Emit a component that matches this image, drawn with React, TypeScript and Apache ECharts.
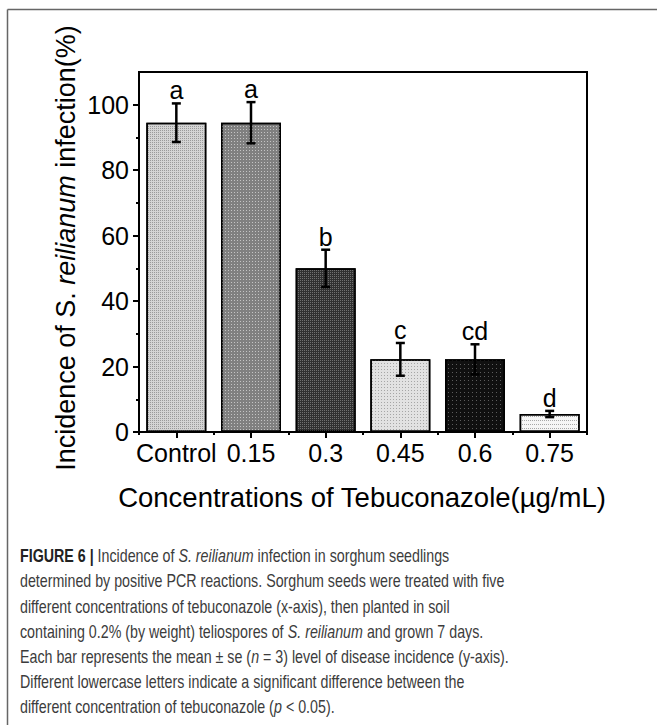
import React, { useEffect, useRef } from "react";
import * as echarts from "echarts";

const FONT = '"Liberation Sans", Arial, Helvetica, sans-serif';

const categories = ["Control", "0.15", "0.3", "0.45", "0.6", "0.75"];
const means = [94.5, 94.5, 50, 22.2, 22.2, 5.5];
const errors = [5.9, 6.3, 5.7, 5.0, 4.6, 0.95];
const letters = ["a", "a", "b", "c", "cd", "d"];
const yMajorTicks = [0, 20, 40, 60, 80, 100];
const yMinorTicks = [10, 30, 50, 70, 90];

const barBg = ["#d4d4d4", "#808080", "#303030", "#e2e2e2", "#101010", "#f6f6f6"];
const barDot = ["#9a9a9a", "#c4c4c4", "#707070", "#a6a6a6", "#5c5c5c", "#a8a8a8"];
const dashX = [[1, 1], [1, 2], [1, 1], [1, 2], [1, 3], [1, 1]];
const dashY = [[1, 1], [1, 2], [1, 1], [1, 2], [1, 3], [1, 3]];

const yTitle = "Incidence of S. {i|reilianum} infection(%)";
const xTitle = "Concentrations of Tebuconazole(\u00b5g/mL)";

const captionLines = [
  "{b|FIGURE 6 |} Incidence of {i|S. reilianum} infection in sorghum seedlings",
  "determined by positive PCR reactions. Sorghum seeds were treated with five",
  "different concentrations of tebuconazole (x-axis), then planted in soil",
  "containing 0.2% (by weight) teliospores of {i|S. reilianum} and grown 7 days.",
  "Each bar represents the mean \u00b1 se ({i|n} = 3) level of disease incidence (y-axis).",
  "Different lowercase letters indicate a significant difference between the",
  "different concentration of tebuconazole ({i|p} < 0.05).",
];

export default function App() {
  const ref = useRef<HTMLDivElement>(null);
  useEffect(() => {
    const chart = echarts.init(ref.current!, null, {
      renderer: "svg",
      width: 657,
      height: 725,
    });
    const black = { color: "#000", width: 2 };
    const capFont = 19;
    const capFill = "#3c3c3c";
    const option: any = {
      animation: false,
      backgroundColor: "#fff",
      aria: { enabled: true, decal: { show: true } },
      grid: {
        left: 139,
        right: 70,
        top: 72,
        bottom: 293,
        show: true,
        borderColor: "#000",
        borderWidth: 2,
        backgroundColor: "transparent",
      },
      xAxis: [
        {
          type: "category",
          data: categories,
          position: "bottom",
          axisLine: { show: true, lineStyle: black },
          axisTick: { show: true, alignWithLabel: true, length: 6, lineStyle: black },
          axisLabel: { color: "#000", fontSize: 25, fontFamily: FONT, margin: 8, interval: 0 },
          splitLine: { show: false },
        },
        {
          type: "category",
          data: categories,
          position: "bottom",
          axisLine: { show: false },
          axisTick: { show: true, length: 3, lineStyle: black },
          axisLabel: { show: false },
          splitLine: { show: false },
        },
      ],
      yAxis: [
        {
          type: "value",
          min: 0,
          max: 110,
          interval: 20,
          position: "left",
          axisLine: { show: true, lineStyle: black },
          axisTick: { show: true, length: 6, customValues: yMajorTicks, lineStyle: black },
          axisLabel: {
            customValues: yMajorTicks,
            color: "#000",
            fontSize: 25,
            fontFamily: FONT,
            margin: 10,
          },
          splitLine: { show: false },
        },
        {
          type: "value",
          min: 0,
          max: 110,
          interval: 10,
          position: "left",
          offset: 0,
          axisLine: { show: false },
          axisTick: { show: true, length: 3, customValues: yMinorTicks, lineStyle: black },
          axisLabel: { show: false },
          splitLine: { show: false },
        },
      ],
      series: [
        {
          type: "bar",
          xAxisIndex: 0,
          yAxisIndex: 0,
          barWidth: 60,
          data: means.map((v, i) => ({
            value: v,
            itemStyle: {
              color: barBg[i],
              borderColor: "#000",
              borderWidth: 1.5,
              decal: {
                symbol: "rect",
                symbolSize: 1,
                color: barDot[i],
                backgroundColor: barBg[i],
                dashArrayX: dashX[i],
                dashArrayY: dashY[i],
              },
            },
          })),
          z: 2,
        },
        {
          type: "custom",
          xAxisIndex: 0,
          yAxisIndex: 0,
          z: 5,
          encode: { x: 0, y: 1 },
          data: categories.map((_, i) => [i, means[i], errors[i]]),
          renderItem: (params: any, api: any) => {
            const i = api.value(0);
            const m = api.value(1);
            const e = api.value(2);
            const top = api.coord([i, m + e]);
            const bot = api.coord([i, m - e]);
            const x = top[0];
            const cap = 4.5;
            const ls = { stroke: "#000", lineWidth: 2.5 };
            return {
              type: "group",
              children: [
                { type: "line", shape: { x1: x, y1: top[1], x2: x, y2: bot[1] }, style: ls },
                { type: "line", shape: { x1: x - cap, y1: top[1], x2: x + cap, y2: top[1] }, style: ls },
                { type: "line", shape: { x1: x - cap, y1: bot[1], x2: x + cap, y2: bot[1] }, style: ls },
                {
                  type: "text",
                  x: x,
                  y: top[1] - 13,
                  style: {
                    text: letters[params.dataIndex],
                    fontSize: 25,
                    fontFamily: FONT,
                    fill: "#000",
                    align: "center",
                    verticalAlign: "middle",
                  },
                },
              ],
            };
          },
        },
      ],
      graphic: [
        {
          type: "line",
          shape: { x1: 7.5, y1: 9.5, x2: 657, y2: 9.5 },
          style: { stroke: "#666", lineWidth: 1.5 },
        },
        {
          type: "line",
          shape: { x1: 7.5, y1: 9.5, x2: 7.5, y2: 725 },
          style: { stroke: "#666", lineWidth: 1.5 },
        },
        {
          type: "text",
          x: 66,
          y: 248,
          rotation: Math.PI / 2,
          style: {
            text: yTitle,
            fontSize: 27,
            fontFamily: FONT,
            fill: "#000",
            align: "center",
            verticalAlign: "middle",
            rich: {
              i: { fontStyle: "italic", fontSize: 27, fontFamily: FONT, fill: "#000" },
            },
          },
        },
        {
          type: "text",
          x: 362,
          y: 497,
          style: {
            text: xTitle,
            fontSize: 27.5,
            fontFamily: FONT,
            fill: "#000",
            align: "center",
            verticalAlign: "middle",
          },
        },
        {
          type: "group",
          x: 20,
          y: 0,
          scaleX: 0.75,
          children: captionLines.map((t, k) => ({
            type: "text",
            x: 0,
            y: 556 + k * 25.2,
            style: {
              text: t,
              fontSize: capFont,
              fontFamily: FONT,
              fill: capFill,
              align: "left",
              verticalAlign: "middle",
              rich: {
                b: { fontWeight: "bold", fontSize: capFont, fontFamily: FONT, fill: "#222" },
                i: { fontStyle: "italic", fontSize: capFont, fontFamily: FONT, fill: capFill },
              },
            },
          })),
        },
      ],
    };
    chart.setOption(option);
    return () => chart.dispose();
  }, []);
  return (
    <div
      ref={ref}
      style={{ position: "absolute", left: 0, top: 0, width: 657, height: 725, background: "#fff" }}
    />
  );
}
